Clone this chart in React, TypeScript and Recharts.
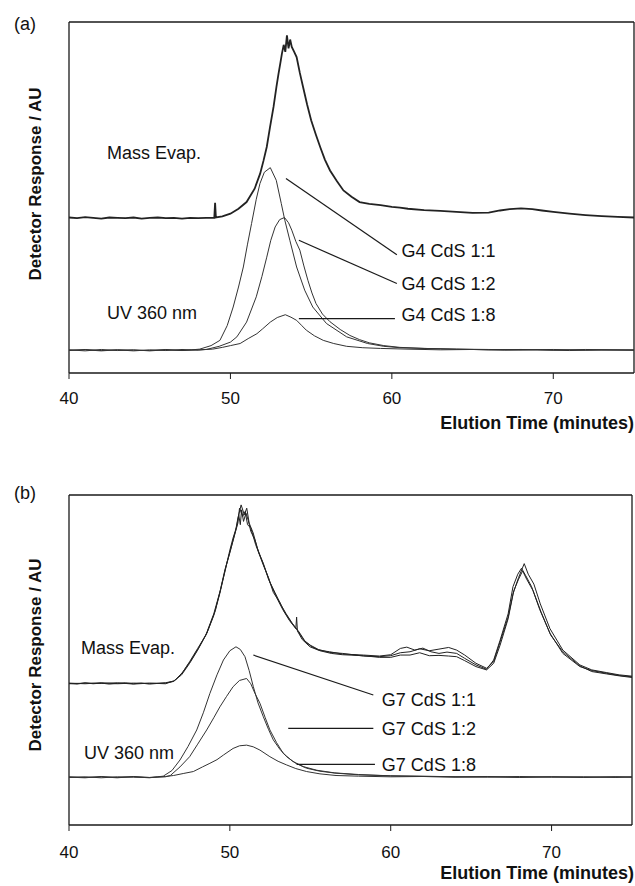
import React from 'react';
import { LineChart, Line, XAxis, YAxis, ReferenceLine, ReferenceDot, Customized } from 'recharts';

type P = [number, number][];

// ---------- tick labels / axis ----------
const xTicks = [40, 50, 60, 70];
const xDomain: [number, number] = [40, 75];
const yDomain: [number, number] = [0, 100];

// ---------- panel (a): G4 ----------
const massEvapA: P = [
  [40, 44.3], [40.5, 44.1], [41, 44.4], [41.5, 44.2], [42, 44.0], [42.5, 44.3], [43, 44.2], [43.5, 44.1],
  [44, 44.3], [44.5, 44.0], [45, 44.2], [45.5, 44.3], [46, 44.1], [46.5, 44.2], [47, 44.0], [47.5, 44.2],
  [48, 44.1], [48.5, 44.2], [49.0, 44.2], [49.05, 48.5], [49.1, 44.3], [49.5, 44.6], [50, 45.4], [50.5, 46.8],
  [51, 48.7], [51.5, 52.5], [51.84, 56.8], [52.05, 60.5], [52.25, 64.4], [52.45, 70], [52.67, 75.8],
  [52.85, 81.5], [52.98, 85.3], [53.1, 88.5], [53.19, 91], [53.3, 93.5], [53.4, 91.5], [53.5, 96.2],
  [53.6, 92.5], [53.7, 95], [53.8, 92.9], [53.95, 91.5], [54.1, 90], [54.3, 85.5], [54.5, 81.5],
  [54.75, 76.5], [55.0, 72], [55.3, 67.8], [55.56, 64.4], [55.85, 60.8], [56.17, 57.7], [56.6, 54.6],
  [57, 52], [57.5, 50.2], [58, 48.7], [58.6, 48.2], [59.3, 47.8], [60, 47.3], [60.5, 47.1], [61, 46.8],
  [62, 46.4], [63, 46.2], [64, 45.9], [65, 45.6], [66, 45.7], [66.7, 46.3], [67.3, 46.7], [68, 46.9],
  [68.7, 46.7], [69.3, 46.3], [70, 45.9], [71, 45.4], [72, 45.0], [73, 44.7], [74, 44.5], [75, 44.3],
];

const uvG4_11: P = [
  [40, 6.6], [41, 6.3], [42, 6.7], [43, 6.4], [44, 6.6], [45, 6.3], [46, 6.6], [47, 6.4], [47.6, 6.6],
  [48.1, 6.8], [48.8, 7.8], [49.35, 9.3], [49.8, 13.5], [50.17, 18.8], [50.5, 24.5], [50.8, 30.2],
  [51.05, 36.5], [51.31, 42.6], [51.6, 49.5], [51.83, 54], [52.1, 57.2], [52.47, 58.5], [52.84, 54.9],
  [53.15, 48.3], [53.37, 43.5], [53.68, 37.8], [54.1, 30.2], [54.6, 23.6], [55.1, 18.8], [55.95, 14.1],
  [57.2, 10.3], [58.5, 8.4], [59.5, 7.6], [60.5, 7.2], [62, 7.0], [64, 6.8], [66, 6.7], [68, 6.6],
  [70, 6.7], [72, 6.5], [75, 6.6],
];

const uvG4_12: P = [
  [40, 6.4], [41, 6.7], [42, 6.4], [43, 6.6], [44, 6.3], [45, 6.6], [46, 6.4], [47, 6.7], [48, 6.5],
  [48.5, 6.7], [49.3, 7.6], [50, 8.8], [50.4, 10.3], [51, 14.5], [51.6, 21.7], [51.95, 27.5], [52.25, 33],
  [52.5, 37.8], [52.77, 41.6], [53.05, 43.7], [53.35, 44.3], [53.6, 42.8], [53.8, 40.7], [54.05, 37.5],
  [54.3, 35], [54.55, 30.5], [54.8, 26.4], [55.05, 22.8], [55.3, 19.8], [55.7, 16.8], [56.17, 14.6],
  [56.8, 12.4], [57.4, 10.7], [58, 9.5], [58.6, 8.6], [59.5, 7.8], [60.5, 7.3], [62, 7.0], [64, 6.8],
  [66, 6.6], [68, 6.7], [70, 6.5], [72, 6.7], [75, 6.5],
];

const uvG4_18: P = [
  [40, 6.5], [41, 6.6], [42, 6.3], [43, 6.6], [44, 6.5], [45, 6.4], [46, 6.7], [47, 6.4], [48, 6.6],
  [48.9, 6.8], [49.5, 7.3], [50, 7.8], [50.6, 8.4], [51.1, 9.8], [51.64, 11.2], [52, 12.6], [52.47, 14.5],
  [52.9, 15.8], [53.4, 16.6], [53.75, 15.9], [54.1, 15], [54.4, 13.6], [54.7, 12.2], [55.2, 10.6],
  [55.75, 9.3], [56.4, 8.4], [57.2, 7.6], [58.2, 7.2], [59.3, 7.0], [61, 6.8], [63, 6.6], [65, 6.7],
  [67, 6.5], [69, 6.6], [71, 6.4], [73, 6.6], [75, 6.5],
];

// ---------- panel (b): G7 ----------
const massEvapB1: P = [
  [40, 42.9], [40.5, 42.7], [41, 43.1], [41.5, 42.8], [42, 43.0], [42.5, 42.7], [43, 42.9], [43.5, 43.1],
  [44, 42.8], [44.5, 43.0], [45, 42.7], [45.5, 42.9], [46, 43.1], [46.5, 43.6], [47, 45.5], [47.5, 49],
  [48, 53], [48.56, 58], [49, 63.5], [49.38, 70.2], [49.7, 77], [50, 83.3], [50.2, 87], [50.42, 90.4],
  [50.55, 94], [50.65, 91], [50.73, 95.5], [50.85, 92], [51, 94.5], [51.14, 92.4], [51.3, 89],
  [51.56, 86.4], [51.8, 82.5], [52.08, 79.3], [52.4, 74.5], [52.7, 71.2], [53, 68], [53.3, 65.2],
  [53.7, 62], [54.1, 59.5], [54.15, 63], [54.2, 58.8], [54.5, 56.2], [54.98, 54], [55.5, 53], [56.2, 52.5],
  [57, 51.8], [58.3, 51.5], [59.3, 51.2], [60, 51.6], [60.6, 53.5], [61, 53.9], [61.5, 53], [62, 53.6],
  [62.5, 52.5], [63, 52], [63.5, 52.4], [64.1, 52], [64.6, 50.5], [65.3, 48.5], [65.96, 47.2], [66.4, 50],
  [66.8, 56], [67.3, 64], [67.6, 72.2], [67.9, 76], [68.13, 77.8], [68.4, 75.5], [68.76, 72.2],
  [69.27, 65.2], [69.9, 58.1], [70.7, 52], [71.76, 48], [72.5, 46.8], [73.4, 46], [74.2, 45.3], [75, 44.9],
];

const massEvapB2: P = [
  [40, 43.0], [41, 42.8], [42, 43.1], [43, 42.8], [44, 43.0], [45, 42.9], [46, 43.0], [46.5, 43.5],
  [47, 45.8], [47.5, 49.5], [48, 53.5], [48.5, 57.5], [49, 64], [49.4, 71], [49.7, 77.5], [50, 82.5],
  [50.3, 88], [50.5, 91.5], [50.6, 96], [50.8, 93.5], [50.95, 95], [51.1, 91], [51.3, 90], [51.6, 85],
  [52.1, 78.5], [52.4, 75], [52.7, 70.5], [53.1, 67.5], [53.4, 64.5], [53.8, 61.5], [54.2, 59], [54.6, 56],
  [55, 54.5], [55.5, 53.2], [56.2, 52.3], [57, 52], [58.3, 51.2], [59.3, 51], [60, 51.3], [60.6, 52.2],
  [61.2, 52.5], [61.8, 53.4], [62.4, 52.8], [63, 53.3], [63.6, 53.8], [64.1, 53], [64.6, 51.5], [65.3, 49],
  [65.96, 47.5], [66.4, 49.5], [66.8, 55.5], [67.3, 63], [67.6, 70], [67.95, 75], [68.3, 79.2], [68.55, 76],
  [68.9, 73], [69.3, 67], [69.9, 59.5], [70.7, 53], [71.76, 48.5], [72.5, 47], [73.4, 46.2], [74.2, 45.5],
  [75, 45.1],
];

const massEvapB3: P = [
  [40, 42.8], [41, 43.0], [42, 42.9], [43, 43.1], [44, 42.7], [45, 43.0], [46, 42.8], [46.6, 43.8],
  [47.1, 46.5], [47.6, 50], [48.1, 54], [48.6, 58.5], [49.1, 65], [49.45, 72], [49.8, 79], [50.1, 84.5],
  [50.35, 89], [50.5, 93], [50.7, 97], [50.9, 94], [51.05, 96], [51.2, 91.5], [51.45, 88.5], [51.7, 84],
  [52.2, 77.5], [52.5, 73.5], [52.8, 70.5], [53.2, 66.5], [53.5, 64], [53.9, 61], [54.3, 58.5], [54.7, 55.5],
  [55.1, 54], [55.6, 52.8], [56.3, 52], [57, 51.6], [58.3, 51.3], [59.3, 50.8], [60, 50.8], [60.6, 51.5],
  [61.2, 51.5], [61.8, 52.2], [62.4, 51.3], [63, 51.4], [63.6, 51.2], [64.1, 51], [64.6, 49.8], [65.3, 48],
  [65.96, 47], [66.4, 49], [66.8, 54.5], [67.3, 62.5], [67.65, 71], [67.95, 74.5], [68.2, 77], [68.45, 74.5],
  [68.85, 71], [69.35, 64.5], [69.95, 57.5], [70.7, 52.5], [71.76, 48.2], [72.5, 46.5], [73.4, 45.8],
  [74.2, 45.2], [75, 44.7],
];

const uvG7_11: P = [
  [40, 14.5], [41, 14.3], [42, 14.7], [43, 14.4], [44, 14.6], [45, 14.3], [45.5, 14.6], [45.86, 14.8],
  [46.4, 16.5], [46.9, 19.7], [47.4, 23.8], [47.94, 28.8], [48.35, 34], [48.76, 39.9], [49.2, 45.5],
  [49.6, 50], [50, 52.8], [50.38, 54], [50.65, 53.2], [50.94, 51], [51.2, 46.8], [51.46, 41.9],
  [51.75, 37], [52.08, 32.8], [52.4, 29], [52.7, 25.8], [53.1, 23], [53.53, 20.7], [54.1, 18.7],
  [54.77, 17.2], [55.6, 16.3], [56.6, 15.7], [58, 15.2], [60, 14.9], [62, 14.8], [64, 14.6], [66, 14.7],
  [68, 14.5], [70, 14.6], [72, 14.4], [74, 14.6], [75, 14.5],
];

const uvG7_12: P = [
  [40, 14.6], [41, 14.4], [42, 14.6], [43, 14.3], [44, 14.7], [45, 14.4], [46, 14.6], [46.3, 15],
  [46.9, 17.6], [47.5, 20.7], [48, 24.5], [48.56, 28.8], [49, 32.5], [49.38, 35.8], [49.8, 39], [50.2, 41.9],
  [50.6, 43.8], [51.04, 44.4], [51.3, 42.8], [51.56, 39.9], [51.87, 36.9], [52.2, 32.5], [52.49, 28.8],
  [52.9, 25], [53.32, 21.7], [53.9, 19.3], [54.56, 17.7], [55.4, 16.6], [56.5, 15.8], [58, 15.3], [60, 14.9],
  [62, 14.7], [64, 14.6], [66, 14.5], [68, 14.7], [70, 14.5], [72, 14.6], [74, 14.4], [75, 14.6],
];

const uvG7_18: P = [
  [40, 14.4], [41, 14.6], [42, 14.3], [43, 14.6], [44, 14.5], [45, 14.4], [46, 14.7], [46.5, 15],
  [47.1, 15.6], [47.73, 16.2], [48.3, 17.6], [48.76, 18.7], [49.2, 19.8], [49.6, 21.2], [50.2, 23.2],
  [50.6, 24], [51.04, 24.2], [51.45, 23.7], [51.87, 22.7], [52.49, 20.7], [53, 19.3], [53.53, 18.2],
  [54.1, 17.1], [54.77, 16.2], [55.6, 15.5], [56.6, 15], [58, 14.8], [60, 14.6], [62, 14.7], [64, 14.5],
  [66, 14.6], [68, 14.4], [70, 14.6], [72, 14.5], [74, 14.6], [75, 14.5],
];

// ---------- annotations ----------
type Ann = { text: string; x: number; y: number; line: [number, number, number, number] };
const annotationsA: Ann[] = [
  { text: 'G4 CdS 1:1', x: 60.6, y: 35.0, line: [53.44, 55.4, 60.31, 33.7] },
  { text: 'G4 CdS 1:2', x: 60.6, y: 25.6, line: [54.24, 37.8, 60.31, 25.5] },
  { text: 'G4 CdS 1:8', x: 60.6, y: 16.6, line: [54.24, 15.5, 60.19, 15.5] },
];
const annotationsB: Ann[] = [
  { text: 'G7 CdS 1:1', x: 59.45, y: 37.9, line: [51.46, 51.5, 58.92, 39.4] },
  { text: 'G7 CdS 1:2', x: 59.45, y: 29.3, line: [53.63, 29.3, 58.92, 29.3] },
  { text: 'G7 CdS 1:8', x: 59.45, y: 18.4, line: [54.15, 18.4, 59.02, 18.4] },
];
type Note = { text: string; x: number; y: number };
const notesA: Note[] = [
  { text: 'Mass Evap.', x: 42.35, y: 62.9 },
  { text: 'UV 360 nm', x: 42.35, y: 17.3 },
];
const notesB: Note[] = [
  { text: 'Mass Evap.', x: 40.75, y: 53.9 },
  { text: 'UV 360 nm', x: 40.93, y: 21.8 },
];

const FONT = 'Liberation Sans, Arial, Helvetica, sans-serif';
const INK = '#1a1a1a';

const toData = (p: P) => p.map(([t, v]) => ({ t, v }));

type PanelProps = {
  top: number;
  height: number;
  marginTop: number;
  marginRight: number;
  axisHeight: number;
  tickMargin: number;
  tag: string;
  tagY: number;
  yTitleY: number;
  xTitleY: number;
  mass: { data: P; w: number }[];
  uv: P[];
  anns: Ann[];
  notes: Note[];
};

function Panel(p: PanelProps) {
  return (
    <div style={{ position: 'absolute', left: 0, top: p.top, width: 635, height: p.height }}>
      <LineChart
        width={635}
        height={p.height}
        margin={{ top: p.marginTop, right: p.marginRight, bottom: 0, left: 69 }}
      >
        <XAxis
          dataKey="t"
          type="number"
          domain={xDomain}
          ticks={xTicks}
          allowDataOverflow
          height={p.axisHeight}
          tickSize={6}
          tickMargin={p.tickMargin}
          axisLine={{ stroke: INK, strokeWidth: 1.3 }}
          tickLine={{ stroke: INK, strokeWidth: 1 }}
          tick={{ fill: '#111', fontSize: 17, fontFamily: FONT }}
        />
        <YAxis hide type="number" domain={yDomain} allowDataOverflow />
        <ReferenceLine x={40} stroke={INK} strokeWidth={1.3} />
        <ReferenceLine y={100} stroke={INK} strokeWidth={1.3} />
        <ReferenceLine x={75} stroke={INK} strokeWidth={1.3} />
        {p.mass.map((m, i) => (
          <Line
            key={'m' + i}
            data={toData(m.data)}
            dataKey="v"
            type="linear"
            dot={false}
            stroke="#222"
            strokeWidth={m.w}
            isAnimationActive={false}
          />
        ))}
        {p.uv.map((u, i) => (
          <Line
            key={'u' + i}
            data={toData(u)}
            dataKey="v"
            type="linear"
            dot={false}
            stroke="#333"
            strokeWidth={1}
            isAnimationActive={false}
          />
        ))}
        {p.anns.map((a, i) => (
          <ReferenceLine
            key={'l' + i}
            segment={[{ x: a.line[0], y: a.line[1] }, { x: a.line[2], y: a.line[3] }]}
            stroke={INK}
            strokeWidth={1.2}
          />
        ))}
        {[...p.anns, ...p.notes].map((a, i) => (
          <ReferenceDot
            key={'t' + i}
            x={a.x}
            y={a.y}
            r={0}
            stroke="none"
            fill="none"
            label={{ value: a.text, position: 'right', offset: 0, fill: '#111', fontSize: 18, fontFamily: FONT }}
          />
        ))}
        <Customized
          component={() => (
            <g fontFamily={FONT} fill="#111">
              <text x={25} y={p.tagY} fontSize={18} textAnchor="middle" dominantBaseline="central">
                {p.tag}
              </text>
              <text
                x={35}
                y={p.yTitleY}
                fontSize={17}
                fontWeight="bold"
                textAnchor="middle"
                dominantBaseline="central"
                transform={`rotate(-90 35 ${p.yTitleY})`}
              >
                Detector Response / AU
              </text>
              <text x={634} y={p.xTitleY} fontSize={18} fontWeight="bold" textAnchor="end" dominantBaseline="central">
                Elution Time (minutes)
              </text>
            </g>
          )}
        />
      </LineChart>
    </div>
  );
}

export default function App() {
  return (
    <div style={{ position: 'absolute', left: 0, top: 0, width: 635, height: 886, background: '#fff' }}>
      <Panel
        top={0}
        height={450}
        marginTop={22}
        marginRight={1}
        axisHeight={77}
        tickMargin={13}
        tag="(a)"
        tagY={24}
        yTitleY={184}
        xTitleY={423}
        mass={[{ data: massEvapA, w: 1.8 }]}
        uv={[uvG4_11, uvG4_12, uvG4_18]}
        anns={annotationsA}
        notes={notesA}
      />
      <Panel
        top={450}
        height={436}
        marginTop={45}
        marginRight={3}
        axisHeight={61}
        tickMargin={15}
        tag="(b)"
        tagY={43}
        yTitleY={205}
        xTitleY={423}
        mass={[
          { data: massEvapB1, w: 1 },
          { data: massEvapB2, w: 1 },
          { data: massEvapB3, w: 1 },
        ]}
        uv={[uvG7_11, uvG7_12, uvG7_18]}
        anns={annotationsB}
        notes={notesB}
      />
    </div>
  );
}
